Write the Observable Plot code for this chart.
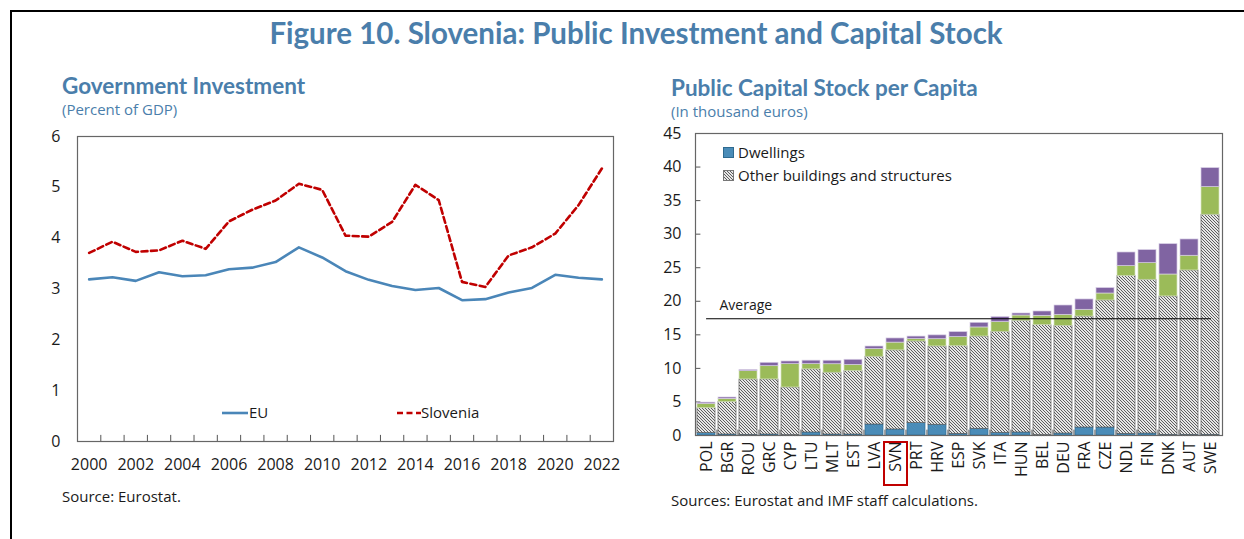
<!DOCTYPE html>
<html><head><meta charset="utf-8">
<script src="https://cdn.jsdelivr.net/npm/d3@7"></script>
<script src="https://cdn.jsdelivr.net/npm/@observablehq/plot@0.6"></script>
<style>
body{margin:0;background:#fff;}
#fig{position:relative;width:1244px;height:539px;overflow:hidden;font-family:"Open Sans",sans-serif;color:#1a1a1a;}
.abs{position:absolute;white-space:nowrap;line-height:1;}
.ttl{font-family:"Lato",sans-serif;font-weight:700;color:#4A7EAB;}
.sub{color:#4A7EAB;font-size:15px;}
.src{font-size:15px;color:#1a1a1a;}
.leg{font-size:15px;}
</style></head><body>
<svg width="0" height="0" style="position:absolute">
  <defs>
    <pattern id="hatch" patternUnits="userSpaceOnUse" width="3" height="3">
      <rect width="3" height="3" fill="#e6e6e6"></rect>
      <path d="M0,0L3,3M-1,2L1,4M2,-1L4,1" stroke="#5e5e5e" stroke-width="1"></path>
    </pattern>
  </defs>
</svg>
<div id="fig">
  <div class="abs" style="left:10px;top:10px;width:1240px;height:600px;border-top:2px solid #000;border-left:2px solid #000;"></div>
  <div class="abs ttl" style="left:0;width:1272px;text-align:center;top:18px;font-size:29.5px;">Figure 10. Slovenia: Public Investment and Capital Stock</div>
  <div class="abs ttl" style="left:62px;top:75px;font-size:22.5px;">Government Investment</div>
  <div class="abs sub" style="left:62px;top:102px;">(Percent of GDP)</div>
  <div class="abs ttl" style="left:671px;top:77px;font-size:22.5px;">Public Capital Stock per Capita</div>
  <div class="abs sub" style="left:671px;top:104px;">(In thousand euros)</div>
  <div id="left" class="abs" style="left:30px;top:125px;"></div>
  <div id="right" class="abs" style="left:650px;top:122px;"></div>
  <div class="abs src" style="left:62px;top:489px;">Source: Eurostat.</div>
  <div class="abs src" style="left:671px;top:493px;">Sources: Eurostat and IMF staff calculations.</div>
  <!-- left legend -->
  <svg class="abs" style="left:220px;top:405px;" width="30" height="16"><line x1="2" y1="8" x2="28" y2="8" stroke="#4A86B8" stroke-width="2.6"/></svg>
  <div class="abs leg" style="left:249px;top:405px;">EU</div>
  <svg class="abs" style="left:396px;top:405px;" width="26" height="16"><line x1="1" y1="8" x2="25" y2="8" stroke="#C00000" stroke-width="2.6" stroke-dasharray="6,3.5"/></svg>
  <div class="abs leg" style="left:421px;top:405px;">Slovenia</div>
  <!-- right legend -->
  <svg class="abs" style="left:723px;top:147px;" width="12" height="12"><rect x="0.5" y="0.5" width="10" height="10" fill="#4A8CB8" stroke="#2e6a90"/></svg>
  <div class="abs leg" style="left:738px;top:145px;">Dwellings</div>
  <svg class="abs" style="left:723px;top:170px;" width="12" height="12"><rect x="0.5" y="0.5" width="10" height="10" fill="url(#hatch)" stroke="#777"/></svg>
  <div class="abs leg" style="left:738px;top:168px;">Other buildings and structures</div>
</div>
<script>
// ---- Left chart data: Government investment (percent of GDP)
const years = [2000,2001,2002,2003,2004,2005,2006,2007,2008,2009,2010,2011,2012,2013,2014,2015,2016,2017,2018,2019,2020,2021,2022];
const euValues = [3.19,3.23,3.16,3.33,3.25,3.27,3.39,3.42,3.53,3.82,3.62,3.35,3.18,3.06,2.98,3.02,2.78,2.80,2.93,3.02,3.28,3.22,3.19];
const sloveniaValues = [3.71,3.93,3.73,3.76,3.95,3.79,4.33,4.56,4.74,5.07,4.95,4.05,4.03,4.32,5.05,4.75,3.14,3.04,3.66,3.82,4.09,4.65,5.37];
const leftYTicks = [0,1,2,3,4,5,6];
const leftXTickLabels = [2000,2002,2004,2006,2008,2010,2012,2014,2016,2018,2020,2022];

// ---- Right chart data: Public capital stock per capita (thousand euros)
const countries = ["POL","BGR","ROU","GRC","CYP","LTU","MLT","EST","LVA","SVN","PRT","HRV","ESP","SVK","ITA","HUN","BEL","DEU","FRA","CZE","NDL","FIN","DNK","AUT","SWE"];
const dwellings =      [0.35,0.15,0.10,0.15,0.05,0.45,0.15,0.15,1.64,0.90,1.84,1.60,0.25,1.00,0.40,0.45,0.05,0.30,1.19,1.19,0.25,0.30,0.10,0.10,0.10];
const otherBuildings = [3.72,4.82,8.25,8.20,7.10,9.40,9.20,9.45,10.09,11.78,12.17,11.67,13.05,13.75,15.05,16.64,16.39,16.04,16.54,18.93,23.50,22.90,20.62,24.49,32.79];
const greenSegment =   [0.65,0.49,1.24,1.98,3.48,0.78,1.27,0.92,1.15,1.16,0.36,1.08,1.37,1.35,1.44,0.79,1.39,1.64,1.00,1.04,1.49,2.48,3.27,2.19,4.12];
const purpleSegment =  [0.18,0.20,0.16,0.50,0.40,0.52,0.52,0.76,0.38,0.62,0.37,0.57,0.73,0.69,0.75,0.30,0.65,1.39,1.54,0.80,2.03,1.94,4.52,2.43,2.83];
const averageValue = 17.4;
const rightYTicks = [0,5,10,15,20,25,30,35,40,45];
const highlighted = "SVN";

// ---- Left chart
const lineData = years.flatMap((y, i) => [
  {year: y, value: euValues[i], series: "EU"},
  {year: y, value: sloveniaValues[i], series: "Slovenia"}
]);
const yearBoundaries = years.slice(1).map(y => y - 0.5);
const left = Plot.plot({
  width: 600, height: 360,
  marginLeft: 47, marginRight: 17, marginTop: 11, marginBottom: 44,
  style: {fontFamily: "Open Sans", fontSize: "16px", color: "#1a1a1a", background: "transparent", overflow: "visible"},
  x: {domain: [1999.5, 2022.5], ticks: leftXTickLabels, tickFormat: d => String(d), tickSize: 0, tickPadding: 17, label: null},
  y: {domain: [0, 6], ticks: leftYTicks, tickFormat: d => String(d), tickSize: 0, tickPadding: 17, label: null},
  marks: [
    Plot.ruleX(yearBoundaries, {x: d => d, y1: 0, y2: 0.12, stroke: "#555", strokeWidth: 1}),
    Plot.line(lineData.filter(d => d.series === "EU"), {x: "year", y: "value", stroke: "#4A86B8", strokeWidth: 2.6}),
    Plot.line(lineData.filter(d => d.series === "Slovenia"), {x: "year", y: "value", stroke: "#C00000", strokeWidth: 2.6, strokeDasharray: "6,3.5"}),
    Plot.frame({stroke: "#666", strokeWidth: 1.2})
  ]
});
document.getElementById("left").appendChild(left);

// ---- Right chart
const parts = ["Dwellings", "Other buildings and structures", "green", "purple"];
const fillMap = {"Dwellings": "#4A8CB8", "Other buildings and structures": "url(#hatch)", "green": "#9BBB59", "purple": "#8064A2"};
const strokeMap = {"Dwellings": "#2e6a90", "Other buildings and structures": "#5a5a5a", "green": "#d8e4c0", "purple": "#d6cce4"};
const barData = countries.flatMap((c, i) => [
  {country: c, part: parts[0], value: dwellings[i]},
  {country: c, part: parts[1], value: otherBuildings[i]},
  {country: c, part: parts[2], value: greenSegment[i]},
  {country: c, part: parts[3], value: purpleSegment[i]}
]);
const rW = 590, rH = 370, rML = 45, rMR = 18;
const pIn = 0.14, pOut = 0.07;
const step = (rW - rML - rMR) / (countries.length - pIn + 2 * pOut);
const bandW = step * (1 - pIn);
const right = Plot.plot({
  width: rW, height: rH,
  marginLeft: rML, marginRight: rMR, marginTop: 11, marginBottom: 57,
  style: {fontFamily: "Open Sans", fontSize: "16px", color: "#1a1a1a", background: "transparent", overflow: "visible"},
  x: {domain: countries, paddingInner: pIn, paddingOuter: pOut, tickSize: 0, tickPadding: 6, tickRotate: -90, label: null},
  y: {domain: [0, 45], ticks: rightYTicks, tickSize: 0, tickPadding: 14, label: null},
  color: {type: "identity"},
  marks: [
    Plot.tickY(rightYTicks, {y: d => d, x: () => countries[0], stroke: "#555", insetRight: bandW - 5, dx: -step * pOut}),
    Plot.barY(barData, {x: "country", y: "value", order: parts, fill: d => fillMap[d.part], stroke: d => strokeMap[d.part], strokeWidth: 0.7}),
    Plot.ruleX(countries.slice(1), {x: d => d, y1: 0, y2: 0.8, stroke: "#555", dx: -step / 2}),
    Plot.lineY([{c: countries[0], v: averageValue}, {c: countries[countries.length - 1], v: averageValue}], {x: "c", y: "v", stroke: "#000", strokeWidth: 1.2}),
    Plot.text([{c: countries[0], v: averageValue, t: "Average"}], {x: "c", y: "v", text: "t", textAnchor: "start", dx: 13, dy: -13, fontSize: 14, fill: "#1a1a1a"}),
    Plot.frame({stroke: "#666", strokeWidth: 1.2})
  ]
});
document.getElementById("right").appendChild(right);

// red box around the highlighted country label, positioned with the plot's x scale
const xs = right.scale("x");
const cx = 650 + xs.apply(highlighted) + xs.bandwidth / 2;
const box = document.createElement("div");
box.className = "abs";
box.style.cssText = `left:${cx - 12}px;top:441px;width:21px;height:41px;border:2px solid #C00000;`;
document.getElementById("fig").appendChild(box);
</script>
</body></html>
